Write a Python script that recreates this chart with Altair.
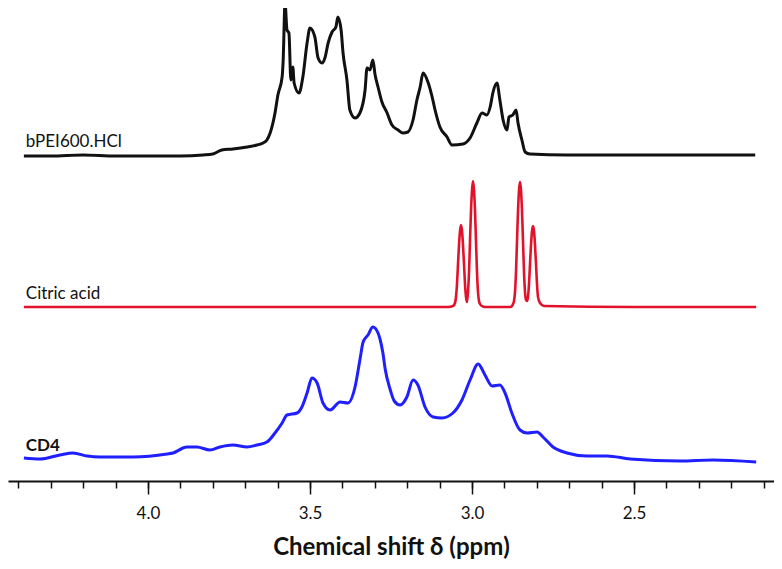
import altair as alt
import pandas as pd

# ---------------- data ----------------
x_domain = [2.068, 4.432]
major_ticks = [4.0, 3.5, 3.0, 2.5]
minor_ticks = [4.4, 4.3, 4.2, 4.1, 4.0, 3.9, 3.8, 3.7, 3.6, 3.5, 3.4, 3.3,
               3.2, 3.1, 3.0, 2.9, 2.8, 2.7, 2.6, 2.5, 2.4, 2.3, 2.2, 2.1]

series_names = ["bPEI600.HCl", "Citric acid", "CD4"]
series_colors = ["#111111", "#e3122b", "#1f1fff"]
series_offsets = [325, 174, 24]

bpei_ppm = [4.383, 4.30, 4.20, 4.10, 4.00, 3.90, 3.83, 3.80, 3.772, 3.738, 3.694, 3.664,
            3.645, 3.633, 3.623, 3.608, 3.599, 3.586, 3.583, 3.577, 3.571, 3.565, 3.559,
            3.553, 3.549, 3.534, 3.522, 3.509, 3.500, 3.485, 3.475, 3.463, 3.454, 3.444,
            3.432, 3.420, 3.414, 3.404, 3.398, 3.386, 3.377, 3.361, 3.346, 3.330, 3.324,
            3.315, 3.306, 3.299, 3.290, 3.278, 3.262, 3.247, 3.228, 3.213, 3.198, 3.182,
            3.170, 3.160, 3.151, 3.136, 3.123, 3.114, 3.099, 3.077, 3.062, 3.028, 3.006,
            2.985, 2.969, 2.954, 2.944, 2.935, 2.923, 2.914, 2.904, 2.892, 2.886, 2.874,
            2.864, 2.858, 2.846, 2.836, 2.821, 2.707, 2.50, 2.30, 2.126]
bpei_int = [0, 0, 1, 0, 0, 0, 1, 2, 6, 7, 9, 11,
            13, 16, 23, 43, 61, 79, 94, 153, 126, 123, 76,
            89, 73, 63, 79, 113, 128, 119, 98, 93, 98, 113,
            124, 129, 139, 126, 103, 76, 46, 38, 43, 66, 88,
            86, 96, 81, 69, 54, 43, 31, 26, 23, 24, 36,
            56, 69, 83, 74, 59, 46, 29, 19, 11, 12, 18,
            33, 43, 41, 49, 64, 73, 56, 36, 26, 39, 41,
            46, 33, 16, 4, 2, 1, 1, 1, 1]

citric_ppm = [4.383, 3.60, 3.30, 3.074, 3.0586, 3.0525, 3.0494, 3.0463, 3.0432, 3.0401,
              3.0370, 3.0339, 3.0308, 3.0278, 3.0247, 3.0216, 3.0185, 3.0154, 3.0123,
              3.0092, 3.0062, 3.0031, 3.0000, 2.9969, 2.9938, 2.9907, 2.9877, 2.9846,
              2.9815, 2.9784, 2.9753, 2.9691, 2.9599, 2.8827, 2.8765, 2.8735, 2.8704,
              2.8673, 2.8642, 2.8611, 2.8580, 2.8549, 2.8519, 2.8488, 2.8457, 2.8426,
              2.8395, 2.8364, 2.8333, 2.8302, 2.8272, 2.8241, 2.8210, 2.8179, 2.8148,
              2.8117, 2.8086, 2.8056, 2.8025, 2.7994, 2.7963, 2.7901, 2.7778, 2.50, 2.123]
citric_int = [0, 0, 0, 0, 1, 4, 10, 23, 43, 62,
              76, 82, 76, 62, 43, 23, 10, 5, 15,
              35, 66, 96, 117, 126, 117, 96, 66, 35,
              15, 6, 3, 1, 0, 0, 1, 3, 6,
              15, 35, 66, 96, 117, 125, 117, 96, 66,
              35, 15, 7, 6, 10, 23, 43, 62, 76,
              81, 76, 62, 43, 23, 10, 4, 1, 0, 0]

cd4_ppm = [4.383, 4.333, 4.272, 4.231, 4.188, 4.148, 4.046, 3.941, 3.923, 3.880, 3.849,
           3.809, 3.778, 3.738, 3.694, 3.664, 3.633, 3.608, 3.586, 3.571, 3.540, 3.525,
           3.509, 3.494, 3.478, 3.460, 3.438, 3.407, 3.383, 3.361, 3.346, 3.336, 3.321,
           3.306, 3.290, 3.284, 3.275, 3.268, 3.253, 3.240, 3.222, 3.201, 3.182,
           3.167, 3.145, 3.120, 3.093, 3.059, 3.031, 3.006, 2.981, 2.960, 2.938, 2.914,
           2.898, 2.877, 2.852, 2.830, 2.799, 2.781, 2.750, 2.707, 2.645, 2.583, 2.512,
           2.358, 2.256, 2.123]
cd4_int = [-1, -2, 2, 4, 1, 0, 0, 3, 4, 10, 10,
           7, 10, 12, 10, 12, 15, 24, 34, 42, 44, 50,
           64, 79, 74, 54, 47, 55, 54, 70, 97, 115, 122,
           130, 124, 118, 104, 88, 68, 56, 52, 60, 77,
           72, 50, 40, 39, 44, 57, 77, 93, 82, 71, 72,
           64, 44, 27, 24, 25, 20, 10, 4, 1, 1, -2,
           -4, -3, -5]

label_ppm = [4.377, 4.377, 4.377]
label_lift = [9, 8, 6]

# ---------------- build tables ----------------
rows = []
for name, off, ppm, inten in zip(series_names, series_offsets,
                                  [bpei_ppm, citric_ppm, cd4_ppm],
                                  [bpei_int, citric_int, cd4_int]):
    for p, v in zip(ppm, inten):
        rows.append({"series": name, "ppm": p, "value": off + v})
df = pd.DataFrame(rows)

labels = pd.DataFrame({
    "series": series_names,
    "ppm": label_ppm,
    "value": [o + l for o, l in zip(series_offsets, label_lift)],
})

FONT = "Lato"
xscale = alt.Scale(domain=x_domain, reverse=True, nice=False, zero=False)
yscale = alt.Scale(domain=[0, 473], nice=False, zero=False)

major_axis = alt.Axis(values=major_ticks, format=".1f", orient="bottom",
                      tickSize=13, tickWidth=1.5, tickColor="#111111",
                      domainColor="#111111", domainWidth=2,
                      labelFont=FONT, labelFontSize=17, labelColor="#111111",
                      labelPadding=11, labelFlush=False, grid=False,
                      title="Chemical shift δ (ppm)", titleFont=FONT,
                      titleFontSize=24, titleFontWeight="bold", titleColor="#111111",
                      titlePadding=14)
minor_axis = alt.Axis(values=minor_ticks, orient="bottom", tickSize=7, tickWidth=1.5,
                      tickColor="#111111", labels=False, domain=False, grid=False,
                      title="")

layers = []
widths = [3, 2.6, 3]
for i, (name, col) in enumerate(zip(series_names, series_colors)):
    layers.append(
        alt.Chart(df).transform_filter(alt.datum.series == name)
        .mark_line(color=col, strokeWidth=widths[i], strokeJoin="round",
                   interpolate="monotone")
        .encode(
            x=alt.X("ppm:Q", scale=xscale, axis=major_axis if i == 0 else None),
            y=alt.Y("value:Q", scale=yscale, axis=None),
            order="ppm:Q",
        )
    )

text_regular = (
    alt.Chart(labels).transform_filter(alt.datum.series != "CD4")
    .mark_text(align="left", baseline="alphabetic", font=FONT, fontSize=17, color="#111111")
    .encode(x=alt.X("ppm:Q", scale=xscale, axis=minor_axis),
            y=alt.Y("value:Q", scale=yscale, axis=None),
            text="series:N")
)
text_bold = (
    alt.Chart(labels).transform_filter(alt.datum.series == "CD4")
    .mark_text(align="left", baseline="alphabetic", font=FONT, fontSize=17,
               fontWeight="bold", color="#111111")
    .encode(x=alt.X("ppm:Q", scale=xscale, axis=None),
            y=alt.Y("value:Q", scale=yscale, axis=None),
            text="series:N")
)

chart = (
    alt.layer(*layers, text_regular, text_bold)
    .resolve_axis(x="independent")
    .properties(width=766, height=473,
                autosize=alt.AutoSizeParams(type="none"),
                padding={"left": 0, "top": 0, "right": 0, "bottom": 78},
                background="white")
    .configure_view(stroke=None)
)

chart.save("out.html", embed_options={"renderer": "svg", "actions": False})
